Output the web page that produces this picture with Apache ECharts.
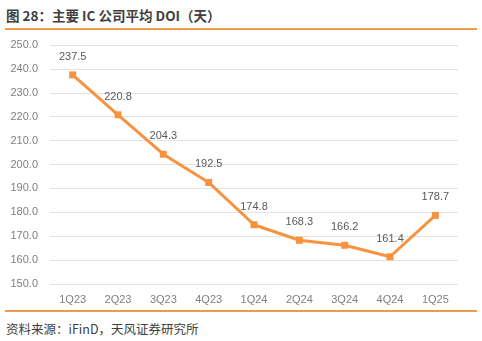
<!DOCTYPE html>
<html>
<head>
<meta charset="utf-8">
<script src="https://cdn.jsdelivr.net/npm/echarts@6/dist/echarts.min.js"></script>
<style>
  html, body { margin: 0; padding: 0; background: #fff; }
  #wrap { position: relative; width: 482px; height: 341px; overflow: hidden; }
  #title { position: absolute; left: 6px; top: 5px; font: bold 13.5px "Noto Sans CJK SC", sans-serif; color: #404040; white-space: nowrap; }
  .rule { position: absolute; left: 5px; width: 472px; height: 2px; background: #F39A4A; }
  #source { position: absolute; left: 6px; top: 319px; font: 12.5px "Noto Sans CJK SC", sans-serif; color: #404040; white-space: nowrap; }
  #chart { position: absolute; left: 0; top: 31px; width: 482px; height: 279px; }
</style>
</head>
<body>
<div id="wrap">
  <div id="title">图 28：主要 IC 公司平均 DOI（天）</div>
  <div class="rule" style="top:28px"></div>
  <div id="chart"></div>
  <div class="rule" style="top:310px"></div>
  <div id="source">资料来源：iFinD，天风证券研究所</div>
</div>
<script>
// Quarterly average days of inventory for major IC companies
const quarters = ['1Q23', '2Q23', '3Q23', '4Q23', '1Q24', '2Q24', '3Q24', '4Q24', '1Q25'];
const doiDays = [237.5, 220.8, 204.3, 192.5, 174.8, 168.3, 166.2, 161.4, 178.7];
const yTicks = { min: 150, max: 250, step: 10 };

const chart = echarts.init(document.getElementById('chart'), null, { renderer: 'canvas' });
chart.setOption({
  animation: false,
  grid: { left: 50, right: 24, top: 14, bottom: 26 },
  xAxis: {
    type: 'category',
    data: quarters,
    boundaryGap: true,
    axisLine: { show: false },
    axisTick: { show: false },
    axisLabel: { color: '#7f7f7f', fontSize: 11, fontFamily: 'Liberation Sans, Arial', margin: 10 }
  },
  yAxis: {
    type: 'value',
    min: yTicks.min,
    max: yTicks.max,
    interval: yTicks.step,
    axisLine: { show: false },
    axisTick: { show: false },
    axisLabel: {
      color: '#7f7f7f', fontSize: 11, fontFamily: 'Liberation Sans, Arial', margin: 12,
      formatter: v => v.toFixed(1)
    },
    splitLine: { lineStyle: { color: '#e3e3e3', width: 1 } }
  },
  series: [{
    type: 'line',
    data: doiDays,
    symbol: 'rect',
    symbolSize: 7,
    lineStyle: { color: '#F7933F', width: 3 },
    itemStyle: { color: '#F7933F' },
    label: {
      show: true,
      position: 'top',
      distance: 9,
      color: '#595959',
      fontSize: 11,
      fontFamily: 'Liberation Sans, Arial',
      formatter: p => p.value.toFixed(1)
    }
  }]
});
</script>
</body>
</html>
